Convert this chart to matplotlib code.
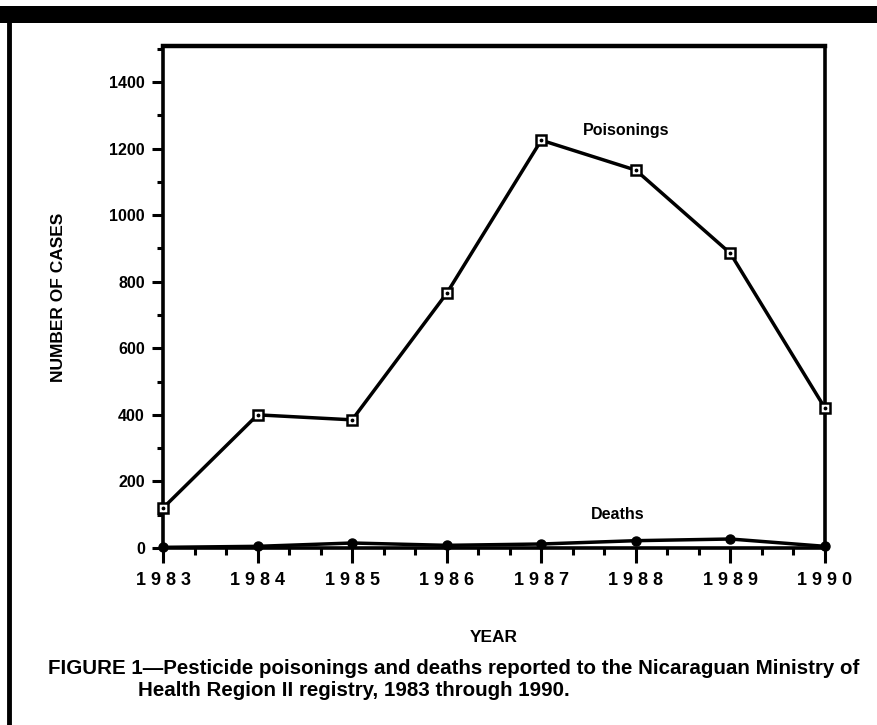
import numpy as np
import matplotlib
matplotlib.use("Agg")
import matplotlib.pyplot as plt
from matplotlib.patches import Rectangle
from matplotlib.lines import Line2D
from matplotlib.ticker import MultipleLocator

plt.rcParams['font.family'] = ['Liberation Sans', 'DejaVu Sans']

years = [1983, 1984, 1985, 1986, 1987, 1988, 1989, 1990]
poisonings = [120, 400, 385, 765, 1225, 1135, 885, 420]
deaths = [2, 5, 15, 8, 12, 22, 27, 5]
year_labels = [" ".join(str(y)) for y in years]
y_ticks = [0, 200, 400, 600, 800, 1000, 1200, 1400]

fig = plt.figure(figsize=(8.77, 7.25), dpi=100)
ax = fig.add_axes([163 / 877, 1 - 548 / 725, (825 - 163) / 877, (548 - 46) / 725])

# poisonings: open squares with a dot inside
ax.plot(years, poisonings, color='black', linewidth=2.5, marker='s', markersize=7.5,
        markerfacecolor='white', markeredgecolor='black', markeredgewidth=1.8,
        clip_on=False, zorder=4)
ax.plot(years, poisonings, linestyle='none', marker='.', markersize=3.5, color='black',
        clip_on=False, zorder=5)
# deaths: filled dots
ax.plot(years, deaths, color='black', linewidth=2.5, marker='o', markersize=6.5,
        clip_on=False, zorder=4)

ax.text(1987.9, 1253, "Poisonings", ha='center', va='center', fontsize=11.5, fontweight='bold')
ax.text(1987.81, 102, "Deaths", ha='center', va='center', fontsize=11.5, fontweight='bold')

ax.set_xlim(1983, 1990)
ax.set_ylim(0, 1508)
ax.set_xticks(years)
ax.set_xticklabels(year_labels, fontsize=13, fontweight='bold')
ax.set_yticks(y_ticks)
ax.set_yticklabels([str(v) for v in y_ticks], fontsize=11.5, fontweight='bold')
ax.xaxis.set_minor_locator(MultipleLocator(1 / 3))
ax.yaxis.set_minor_locator(MultipleLocator(100))
ax.tick_params(axis='x', which='major', direction='out', length=11, width=2.2, pad=6)
ax.tick_params(axis='x', which='minor', direction='out', length=5, width=2.2)
ax.tick_params(axis='y', which='major', direction='out', length=8, width=2.2, pad=5)
ax.tick_params(axis='y', which='minor', direction='out', length=4, width=2.2)
for s in ax.spines.values():
    s.set_linewidth(2.6)
ax.spines['top'].set_linewidth(3.2)

ax.set_xlabel("YEAR", fontsize=12.5, fontweight='bold', labelpad=30)
ax.set_ylabel("NUMBER OF CASES", fontsize=12.5, fontweight='bold', labelpad=31)

# page decoration: black band at top and border on the left
fig.patches.append(Rectangle((0, 1 - 23 / 725), 1, 17 / 725, transform=fig.transFigure,
                             facecolor='black', edgecolor='none'))
fig.lines.append(Line2D([9 / 877, 9 / 877], [0, 1 - 23 / 725], transform=fig.transFigure,
                        color='black', linewidth=3.5))

fig.text(48 / 877, 1 - 668 / 725,
         "FIGURE 1\u2014Pesticide poisonings and deaths reported to the Nicaraguan Ministry of",
         ha='left', va='center', fontsize=14.75, fontweight='bold')
fig.text(138 / 877, 1 - 690 / 725, "Health Region II registry, 1983 through 1990.",
         ha='left', va='center', fontsize=14.75, fontweight='bold')

fig.savefig("out.png", dpi=100)
